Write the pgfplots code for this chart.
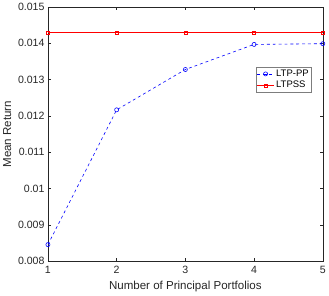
\documentclass[border=0pt]{standalone}
\usepackage{pgfplots}
\pgfplotsset{compat=1.18}
\usepackage{fontspec}
\setmainfont{Liberation Sans}
\definecolor{axgray}{gray}{0.15}
\begin{document}
\begin{tikzpicture}
\begin{axis}[
  scale only axis,
  width=281pt, height=260pt,
  xmin=1, xmax=5, ymin=0.008, ymax=0.015,
  xtick={1,2,3,4,5},
  ytick={0.008,0.009,0.010,0.011,0.012,0.013,0.014,0.015},
  yticklabel style={/pgf/number format/.cd,fixed,precision=3},
  scaled y ticks=false,
  /pgf/number format/assume math mode=true,
  tick align=inside,
  tick pos=both,
  major tick length=3pt,
  axis line style={axgray, line width=0.4pt},
  tick style={axgray, line width=0.4pt},
  ticklabel style={font=\fontsize{10.8}{12}\selectfont, text=axgray},
  xticklabel style={yshift=-1.5pt},
  xlabel={Number of Principal Portfolios},
  ylabel={Mean Return},
  label style={font=\fontsize{11.8}{13}\selectfont, text=axgray},
  xlabel style={yshift=-1pt},
  ylabel style={yshift=0pt},
  legend style={at={(0.96,0.765)}, anchor=north east, font=\fontsize{9.7}{11}\selectfont, draw=axgray!60, line width=0.4pt, inner sep=1pt, row sep=-0.5pt},
  legend cell align=left,
]
\addplot[blue, dashed, line width=0.6pt, mark=o, mark size=2.1pt, mark options={solid}] coordinates {
  (1,0.00846) (2,0.01217) (3,0.01328) (4,0.01397) (5,0.01399)
};
\addlegendentry{LTP-PP}
\addplot[red, line width=0.6pt, mark=square, mark size=1.6pt] coordinates {
  (1,0.01430) (2,0.01430) (3,0.01430) (4,0.01430) (5,0.01430)
};
\addlegendentry{LTPSS}
\end{axis}
\path ([shift={(-45bp,-32bp)}]current axis.south west) rectangle ([shift={(4bp,6bp)}]current axis.north east);
\end{tikzpicture}
\end{document}
